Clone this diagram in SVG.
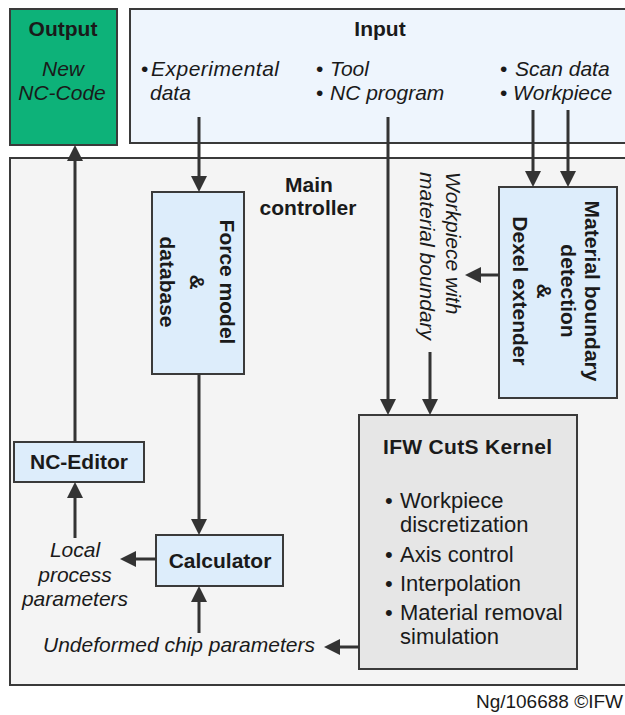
<svg xmlns="http://www.w3.org/2000/svg" width="625" height="715" viewBox="0 0 625 715">
<style>
text{font-family:"Liberation Sans",Arial,sans-serif;font-size:21px;fill:#1a1a1a}
.b{font-weight:bold}
.i{font-style:italic}
.m{text-anchor:middle}
.k{font-size:22px}
.box{stroke:#3a3a3a;stroke-width:2}
.blue{fill:#ddedfb}
.c line{stroke:#333;stroke-width:3;marker-end:url(#ah)}
</style>
<defs>
<marker id="ah" markerUnits="userSpaceOnUse" markerWidth="16" markerHeight="16" refX="12" refY="8" orient="auto">
<path d="M0,0 L16,8 L0,16 z" fill="#333"/>
</marker>
</defs>
<rect width="625" height="715" fill="#fff"/>
<g id="main">
<rect class="box" x="10" y="158" width="625" height="527" fill="#f4f4f4"/>
<text class="b m" x="309" y="192">Main</text>
<text class="b m" x="308" y="215">controller</text>
</g>
<g id="output">
<rect class="box" x="10" y="9" width="107" height="136" fill="#0db279"/>
<text class="b m" x="63" y="36">Output</text>
<text class="i m" x="63" y="76">New</text>
<text class="i m" x="62" y="100">NC-Code</text>
</g>
<g id="input">
<rect class="box" x="130" y="9" width="505" height="134" fill="#eef5fd"/>
<text class="b m" x="380" y="36">Input</text>
<text x="141" y="76">•</text><text class="i" x="151" y="76" textLength="128">Experimental</text>
<text class="i" x="150" y="100">data</text>
<text x="316" y="76">•</text><text class="i" x="330" y="76">Tool</text>
<text x="316" y="100">•</text><text class="i" x="330" y="100">NC program</text>
<text x="500" y="76">•</text><text class="i" x="515" y="76">Scan data</text>
<text x="500" y="100">•</text><text class="i" x="513" y="100">Workpiece</text>
</g>
<g id="force">
<rect class="box blue" x="152" y="192" width="92" height="182"/>
<g transform="translate(190,282) rotate(90)">
<text class="b m" x="0" y="-30">Force model</text>
<text class="b m" x="0" y="0">&amp;</text>
<text class="b m" x="0" y="30">database</text>
</g>
</g>
<g id="material">
<rect class="box blue" x="499" y="187" width="118" height="211"/>
<g transform="translate(585,291) rotate(90)">
<text class="b m" x="0" y="0">Material boundary</text>
<text class="b m" x="0" y="24">detection</text>
<text class="b m" x="0" y="48">&amp;</text>
<text class="b m" x="0" y="72">Dexel extender</text>
</g>
</g>
<g id="wp-label">
<g transform="translate(446,172) rotate(90)">
<text class="i" x="0" y="0">Workpiece with</text>
<text class="i" x="0" y="26">material boundary</text>
</g>
</g>
<g id="kernel">
<rect class="box" x="359" y="415" width="218" height="254" fill="#e6e6e6"/>
<text class="b" x="383" y="454" textLength="169">IFW CutS Kernel</text>
<text class="k" x="385" y="508">•</text><text class="k" x="400" y="508">Workpiece</text>
<text class="k" x="400" y="532">discretization</text>
<text class="k" x="385" y="562">•</text><text class="k" x="400" y="562">Axis control</text>
<text class="k" x="385" y="591">•</text><text class="k" x="400" y="591">Interpolation</text>
<text class="k" x="385" y="620">•</text><text class="k" x="400" y="620">Material removal</text>
<text class="k" x="400" y="644">simulation</text>
</g>
<g id="calculator">
<rect class="box blue" x="156" y="535" width="127" height="51"/>
<text class="b m" x="220" y="568">Calculator</text>
</g>
<g id="nceditor">
<rect class="box blue" x="14" y="442" width="130" height="40"/>
<text class="b m" x="79" y="469">NC-Editor</text>
</g>
<g id="labels">
<text class="i m" x="75" y="557">Local</text>
<text class="i m" x="75" y="582">process</text>
<text class="i m" x="75" y="606">parameters</text>
<text class="i" x="43" y="652">Undeformed chip parameters</text>
<text x="623" y="708" style="font-size:19px;text-anchor:end">Ng/106688 ©IFW</text>
</g>
<g id="connectors" class="c">
<line x1="75" y1="442" x2="75" y2="149"/>
<line x1="199" y1="117" x2="199" y2="188"/>
<line x1="388" y1="117" x2="388" y2="411"/>
<line x1="533" y1="110" x2="533" y2="183"/>
<line x1="568" y1="110" x2="568" y2="183"/>
<line x1="499" y1="275" x2="469" y2="275"/>
<line x1="430" y1="352" x2="430" y2="411"/>
<line x1="199" y1="374" x2="199" y2="531"/>
<line x1="199" y1="633" x2="199" y2="590"/>
<line x1="156" y1="559" x2="124" y2="559"/>
<line x1="75" y1="538" x2="75" y2="486"/>
<line x1="359" y1="647" x2="328" y2="647"/>
</g>
</svg>
